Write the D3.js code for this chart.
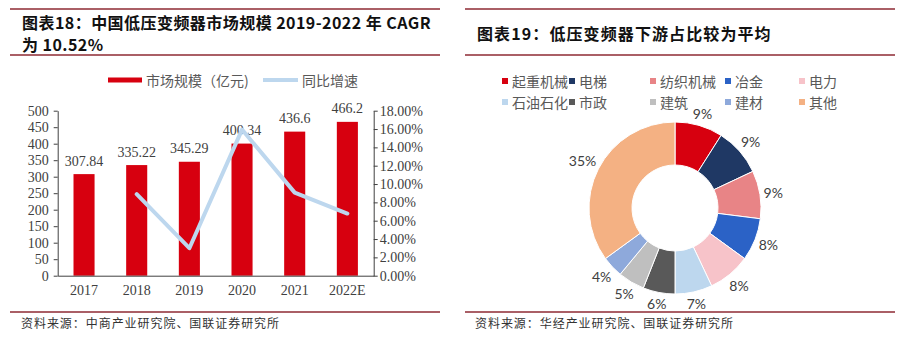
<!DOCTYPE html>
<html>
<head>
<meta charset="utf-8">
<script src="https://cdn.jsdelivr.net/npm/d3@7"></script>
<style>
  html, body { margin: 0; padding: 0; background: #fff; }
  svg { display: block; }
</style>
</head>
<body>
<svg id="chart" width="901" height="339"></svg>
<script>
// ---------- Data ----------
const years = ["2017", "2018", "2019", "2020", "2021", "2022E"];
const marketSize = [307.84, 335.22, 345.29, 400.34, 436.6, 466.2];
const growthYears = ["2018", "2019", "2020", "2021", "2022E"];
const growthRate = [0.0889, 0.0300, 0.1594, 0.0906, 0.0678];
const leftTicks = [0, 50, 100, 150, 200, 250, 300, 350, 400, 450, 500];
const rightTicks = [0, 0.02, 0.04, 0.06, 0.08, 0.10, 0.12, 0.14, 0.16, 0.18];

const sectors = ["起重机械", "电梯", "纺织机械", "冶金", "电力", "石油石化", "市政", "建筑", "建材", "其他"];
const shares = [9, 9, 9, 8, 8, 7, 6, 5, 4, 35];
const sectorColors = ["#D7000F", "#1F3864", "#E88486", "#2B62C6", "#F7C3C9", "#BDD7EE", "#595959", "#BFBFBF", "#8EA9DB", "#F4B183"];

const title1a = "图表18：中国低压变频器市场规模 2019-2022 年 CAGR";
const title1b = "为 10.52%";
const title2 = "图表19：低压变频器下游占比较为平均";
const source1 = "资料来源：中商产业研究院、国联证券研究所";
const source2 = "资料来源：华经产业研究院、国联证券研究所";

// ---------- Setup ----------
const svg = d3.select("#chart");
const ruleColor = "#8E2A33";
const cjk = "'Noto Sans CJK SC', 'Noto Sans', sans-serif";
const serif = "'Liberation Serif', 'DejaVu Serif', serif";

function panelFrame(x0, x1) {
  [9, 55, 312].forEach(y => {
    svg.append("line").attr("x1", x0).attr("x2", x1).attr("y1", y).attr("y2", y)
      .attr("stroke", ruleColor).attr("stroke-width", 1.3);
  });
}
panelFrame(10, 440);
panelFrame(465, 895);

function titleText(x, y, t, ls) {
  svg.append("text").attr("x", x).attr("y", y)
    .attr("dominant-baseline", "central")
    .style("font-family", cjk).style("font-weight", 700)
    .style("font-size", "16px").style("letter-spacing", ls + "px")
    .attr("fill", "#111").text(t);
}
titleText(22, 22, title1a, 0.45);
titleText(22, 44, title1b, 0.45);
titleText(477, 33, title2, 1.1);

function sourceText(x, t) {
  svg.append("text").attr("x", x).attr("y", 322)
    .attr("dominant-baseline", "central")
    .style("font-family", cjk).style("font-size", "12px").style("letter-spacing", "0.95px")
    .attr("fill", "#333").text(t);
}
sourceText(21, source1);
sourceText(475, source2);

// ---------- Left: bar + line ----------
const plotL = 57.7, plotR = 373.7, plotT = 110.7, plotB = 275.7;
const x = d3.scaleBand().domain(years).range([plotL, plotR]).paddingInner(0.6).paddingOuter(0.3);
const yL = d3.scaleLinear().domain([0, 500]).range([plotB, plotT]);
const yR = d3.scaleLinear().domain([0, 0.18]).range([plotB, plotT]);

const left = svg.append("g");

left.selectAll("rect.bar").data(years).join("rect")
  .attr("class", "bar")
  .attr("x", d => x(d)).attr("width", x.bandwidth())
  .attr("y", (d, i) => yL(marketSize[i]))
  .attr("height", (d, i) => plotB - yL(marketSize[i]))
  .attr("fill", "#D7000F");

// axes
const axisStyle = g => {
  g.selectAll("path, line").attr("stroke", "#404040").attr("stroke-width", 1);
  g.selectAll("text").style("font-family", serif).style("font-size", "14px").attr("fill", "#404040");
};
left.append("g").attr("transform", `translate(${plotL},0)`)
  .call(d3.axisLeft(yL).tickValues(leftTicks).tickSize(4).tickSizeOuter(0).tickPadding(5))
  .call(axisStyle);
left.append("g").attr("transform", `translate(${plotR},0)`)
  .call(d3.axisRight(yR).tickValues(rightTicks).tickFormat(d3.format(".2%")).tickSize(4).tickSizeOuter(0).tickPadding(2))
  .call(axisStyle);
left.append("g").attr("transform", `translate(0,${plotB})`)
  .call(d3.axisBottom(x).tickSize(0).tickSizeOuter(0).tickPadding(9))
  .call(axisStyle);

// data labels
left.selectAll("text.val").data(years).join("text")
  .attr("class", "val")
  .attr("x", d => x(d) + x.bandwidth() / 2)
  .attr("y", (d, i) => yL(marketSize[i]) - 13)
  .attr("text-anchor", "middle").attr("dominant-baseline", "central")
  .style("font-family", serif).style("font-size", "14px").attr("fill", "#404040")
  .text((d, i) => marketSize[i]);

// growth line
const line = d3.line()
  .x((d, i) => x(growthYears[i]) + x.bandwidth() / 2)
  .y(d => yR(d));
left.append("path").datum(growthRate)
  .attr("d", line).attr("fill", "none")
  .attr("stroke", "#BDD7EE").attr("stroke-width", 4)
  .attr("stroke-linejoin", "round").attr("stroke-linecap", "round");

// legend left
left.append("rect").attr("x", 108).attr("y", 77.5).attr("width", 34).attr("height", 5).attr("fill", "#D7000F");
left.append("text").attr("x", 146).attr("y", 80).attr("dominant-baseline", "central")
  .style("font-family", cjk).style("font-size", "14px").attr("fill", "#595959").text("市场规模（亿元)");
left.append("line").attr("x1", 263).attr("x2", 298).attr("y1", 80).attr("y2", 80)
  .attr("stroke", "#BDD7EE").attr("stroke-width", 4);
left.append("text").attr("x", 302).attr("y", 80).attr("dominant-baseline", "central")
  .style("font-family", cjk).style("font-size", "14px").attr("fill", "#595959").text("同比增速");

// ---------- Right: donut ----------
const cx = 675, cy = 208;
const outerR = 86, innerR = 43;
const pie = d3.pie().sort(null).value(d => d);
const arcs = pie(shares);
const arc = d3.arc().innerRadius(innerR).outerRadius(outerR);
const donut = svg.append("g").attr("transform", `translate(${cx},${cy})`);
donut.selectAll("path").data(arcs).join("path")
  .attr("d", arc).attr("fill", (d, i) => sectorColors[i])
  .attr("stroke", "#fff").attr("stroke-width", 1);

// label placement: just outside the ring, offset by the label box extent along the mid-angle
function labelPos(d) {
  const a = (d.startAngle + d.endAngle) / 2;
  const s = Math.sin(a), c = Math.cos(a);
  const halfW = (d.data >= 10 ? 13 : 9.5), halfH = 7;
  const r = outerR + 3 + Math.abs(s) * halfW + Math.abs(c) * halfH;
  return [s * r, -c * r];
}
donut.selectAll("text").data(arcs).join("text")
  .attr("transform", d => `translate(${labelPos(d)})`)
  .attr("text-anchor", "middle").attr("dominant-baseline", "central")
  .style("font-family", "Lato, 'Open Sans', sans-serif").style("font-size", "14px").attr("fill", "#404040")
  .text(d => d.data + "%");

// legend right
const legCols = [505, 572, 653, 728, 802];
const legRows = [81, 102];
const leg = svg.append("g");
sectors.forEach((s, i) => {
  const lx = legCols[i % 5], ly = legRows[Math.floor(i / 5)];
  leg.append("rect").attr("x", lx - 3).attr("y", ly - 3).attr("width", 6).attr("height", 6).attr("fill", sectorColors[i]);
  leg.append("text").attr("x", lx + 7).attr("y", ly).attr("dominant-baseline", "central")
    .style("font-family", cjk).style("font-size", "14px").attr("fill", "#595959").text(s);
});
</script>
</body>
</html>
